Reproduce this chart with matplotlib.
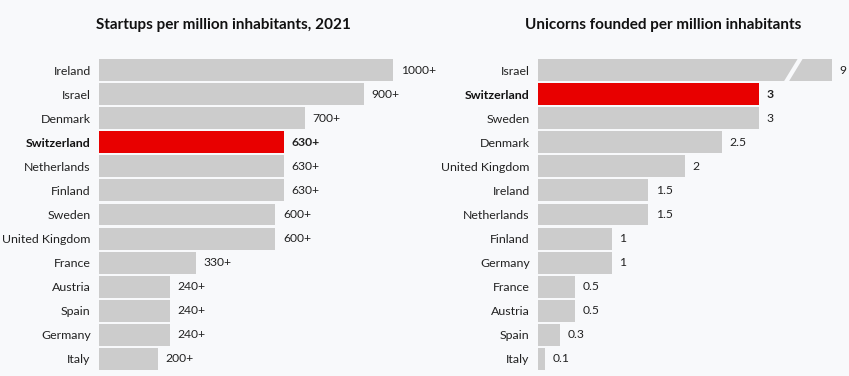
import matplotlib
matplotlib.use("Agg")
import matplotlib.pyplot as plt
from matplotlib.patches import Polygon

plt.rcParams['font.family'] = ['Lato', 'DejaVu Sans']

left_title = "Startups per million inhabitants, 2021"
left_countries = ["Ireland", "Israel", "Denmark", "Switzerland", "Netherlands", "Finland",
                  "Sweden", "United Kingdom", "France", "Austria", "Spain", "Germany", "Italy"]
left_values = [1000, 900, 700, 630, 630, 630, 600, 600, 330, 240, 240, 240, 200]
left_labels = ["1000+", "900+", "700+", "630+", "630+", "630+", "600+", "600+",
               "330+", "240+", "240+", "240+", "200+"]

right_title = "Unicorns founded per million inhabitants"
right_countries = ["Israel", "Switzerland", "Sweden", "Denmark", "United Kingdom", "Ireland",
                   "Netherlands", "Finland", "Germany", "France", "Austria", "Spain", "Italy"]
right_values = [9, 3, 3, 2.5, 2, 1.5, 1.5, 1, 1, 0.5, 0.5, 0.3, 0.1]
right_labels = ["9", "3", "3", "2.5", "2", "1.5", "1.5", "1", "1", "0.5", "0.5", "0.3", "0.1"]
right_cap = 4.0  # axis break: bars above this are truncated

highlight = "Switzerland"
BG = "#f8f9fb"
GREY = "#cccccc"
RED = "#e80000"

W, H = 849, 376
fig = plt.figure(figsize=(W / 100, H / 100), dpi=100, facecolor=BG)

def make_ax(left_px, width_px):
    top_px, bottom_px = 58, 371
    return fig.add_axes([left_px / W, (H - bottom_px) / H, width_px / W, (bottom_px - top_px) / H])

def draw(ax, countries, values, labels, xmax, title, title_x):
    ax.set_facecolor(BG)
    n = len(countries)
    ys = list(range(n))
    shown = [min(v, xmax) for v in values]
    colors = [RED if c == highlight else GREY for c in countries]
    ax.barh(ys, shown, height=0.91, color=colors, zorder=2)
    ax.set_xlim(0, xmax)
    ax.set_ylim(n - 0.5, -0.5)
    ax.set_yticks(ys)
    ax.set_yticklabels(countries, fontsize=8.9, color="#222222")
    for t, c in zip(ax.get_yticklabels(), countries):
        if c == highlight:
            t.set_fontweight("bold")
            t.set_color("#111111")
    ax.tick_params(axis="y", length=0, pad=6)
    ax.set_xticks([])
    for s in ax.spines.values():
        s.set_visible(False)
    pad = xmax * 0.026
    for y, v, lab, c in zip(ys, shown, labels, countries):
        ax.text(v + pad, y, lab, va="center", ha="left", fontsize=8.7, color="#222222",
                fontweight="bold" if c == highlight else "normal", clip_on=False)
    fig.text(title_x / W, 1 - 25 / H, title, ha="center", va="center",
             fontsize=11, fontweight="bold", color="#111111")

axL = make_ax(99, 294)
draw(axL, left_countries, left_values, left_labels, 1000, left_title, 223)

axR = make_ax(538, 294)
draw(axR, right_countries, right_values, right_labels, right_cap, right_title, 663)

# break marks on truncated bars
for y, v in enumerate(right_values):
    if v > right_cap:
        bx = right_cap * 0.86
        w = right_cap * 0.017
        sl = right_cap * 0.025
        axR.add_patch(Polygon([(bx - sl, y + 0.5), (bx - sl + w, y + 0.5),
                               (bx + sl + w, y - 0.5), (bx + sl, y - 0.5)],
                              closed=True, facecolor=BG, edgecolor="none", zorder=3))

fig.savefig("out.png", dpi=100, facecolor=BG)
